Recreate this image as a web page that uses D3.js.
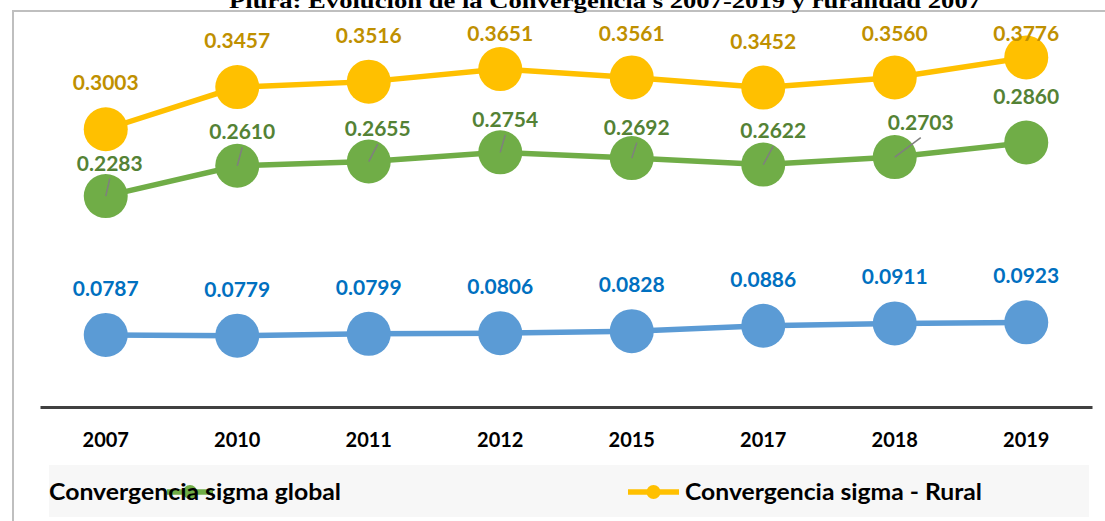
<!DOCTYPE html>
<html>
<head>
<meta charset="utf-8">
<script src="https://cdn.jsdelivr.net/npm/d3@7"></script>
<style>
  body { margin: 0; background: #fff; }
  svg { display: block; }
  text { font-family: Lato, "Open Sans", sans-serif; font-weight: bold; }
</style>
</head>
<body>
<div id="main-container"></div>
<script>
// DATA
const years = ["2007", "2010", "2011", "2012", "2015", "2017", "2018", "2019"];
const sigmaRural = [0.3003, 0.3457, 0.3516, 0.3651, 0.3561, 0.3452, 0.3560, 0.3776];
const sigmaGlobal = [0.2283, 0.2610, 0.2655, 0.2754, 0.2692, 0.2622, 0.2703, 0.2860];
const sigmaUrbano = [0.0787, 0.0779, 0.0799, 0.0806, 0.0828, 0.0886, 0.0911, 0.0923];
const titleText = "Piura: Evolución de la Convergencia s 2007-2019 y ruralidad 2007";

// label nudges for the green series (moved labels get a leader line)
const globalShift = [[4, -33], [5, -34], [9, -33], [5, -33], [5, -31], [10, -34], [26, -35], null];

// CONSTANTS
const width = 1105, height = 521;

const svg = d3.select("#main-container")
    .append("svg")
        .attr("width", width)
        .attr("height", height);

// chart frame (only top and left edges show)
svg.append("rect")
    .attr("x", 13).attr("y", 11)
    .attr("width", 1200).attr("height", 600)
    .attr("fill", "none")
    .attr("stroke", "#bfbfbf")
    .attr("stroke-width", 2);

// title, cut off at the top
svg.append("text")
    .attr("x", 605).attr("y", 8)
    .attr("text-anchor", "middle")
    .style("font-family", "'Liberation Serif', serif")
    .style("font-size", "22px")
    .attr("textLength", 752)
    .attr("lengthAdjust", "spacingAndGlyphs")
    .text(titleText);

const x = d3.scaleBand()
    .domain(years)
    .range([40, 1092])
    .padding(0);

const y = d3.scaleLinear()
    .domain([0, 0.4])
    .range([408, 36.7]);

const cx = (i) => x(years[i]) + x.bandwidth() / 2;

// x axis
const xAxis = svg.append("g")
    .attr("transform", `translate(0, 407)`)
    .call(d3.axisBottom(x).tickSize(0).tickPadding(0));
xAxis.select(".domain")
    .attr("stroke", "#404040")
    .attr("stroke-width", 3);
xAxis.selectAll("text")
    .attr("y", 0)
    .attr("dy", 0)
    .attr("transform", "translate(0, 40)")
    .style("font-size", "20px")
    .style("font-family", "Lato, sans-serif")
    .attr("fill", "#000");

const series = [
    {name: "urbano", values: sigmaUrbano, color: "#5b9bd5", label: "#0070c0"},
    {name: "global", values: sigmaGlobal, color: "#70ad47", label: "#548235"},
    {name: "rural", values: sigmaRural, color: "#ffc000", label: "#bf9000"}
];

const line = d3.line()
    .x((d, i) => cx(i))
    .y((d) => y(d));

series.forEach((s) => {
    let g = svg.append("g").attr("id", s.name);
    g.append("path")
        .datum(s.values)
        .attr("d", line)
        .attr("fill", "none")
        .attr("stroke", s.color)
        .attr("stroke-width", 5.5);
    g.selectAll("circle")
        .data(s.values)
        .enter()
        .append("circle")
            .attr("cx", (d, i) => cx(i))
            .attr("cy", (d) => y(d))
            .attr("r", 22)
            .attr("fill", s.color);

    // label positions
    let pos = s.values.map((d, i) => {
        let px = cx(i), py = y(d);
        if (s.name === "global" && globalShift[i]) {
            return {x: px + globalShift[i][0], y: py + globalShift[i][1], moved: true, px: px, py: py};
        }
        let ly = py - 46.5;
        if (s.name === "rural") ly = Math.max(ly, 33);
        return {x: px, y: ly, moved: false};
    });

    g.selectAll("line.leader")
        .data(pos.filter((p) => p.moved))
        .enter()
        .append("line")
            .attr("class", "leader")
            .attr("x1", (p) => p.px).attr("y1", (p) => p.py)
            .attr("x2", (p) => p.x).attr("y2", (p) => p.y + 15.5)
            .attr("stroke", "#7f7f7f")
            .attr("stroke-width", 1.5);

    g.selectAll("text.val")
        .data(s.values)
        .enter()
        .append("text")
            .attr("class", "val")
            .attr("x", (d, i) => pos[i].x)
            .attr("y", (d, i) => pos[i].y + 7.5)
            .attr("text-anchor", "middle")
            .style("font-size", "21px")
            .attr("fill", s.label)
            .text((d) => d.toFixed(4));
});

// LEGEND
svg.append("rect")
    .attr("x", 49).attr("y", 465)
    .attr("width", 1040).attr("height", 52)
    .attr("fill", "#f7f7f7");

const legendItems = [
    {text: "Convergencia sigma global", color: "#70ad47", x0: 167, x1: 213, tx: 49, tl: 292},
    {text: "Convergencia sigma - Rural", color: "#ffc000", x0: 628, x1: 679, tx: 685, tl: 297}
];

legendItems.forEach((l) => {
    svg.append("line")
        .attr("x1", l.x0).attr("x2", l.x1)
        .attr("y1", 492).attr("y2", 492)
        .attr("stroke", l.color)
        .attr("stroke-width", 5.5);
    svg.append("circle")
        .attr("cx", (l.x0 + l.x1) / 2).attr("cy", 492)
        .attr("r", 7)
        .attr("fill", l.color);
    svg.append("text")
        .attr("x", l.tx).attr("y", 499.5)
        .style("font-size", "22px")
        .attr("fill", "#000")
        .attr("textLength", l.tl)
        .attr("lengthAdjust", "spacingAndGlyphs")
        .text(l.text);
});
</script>
</body>
</html>
